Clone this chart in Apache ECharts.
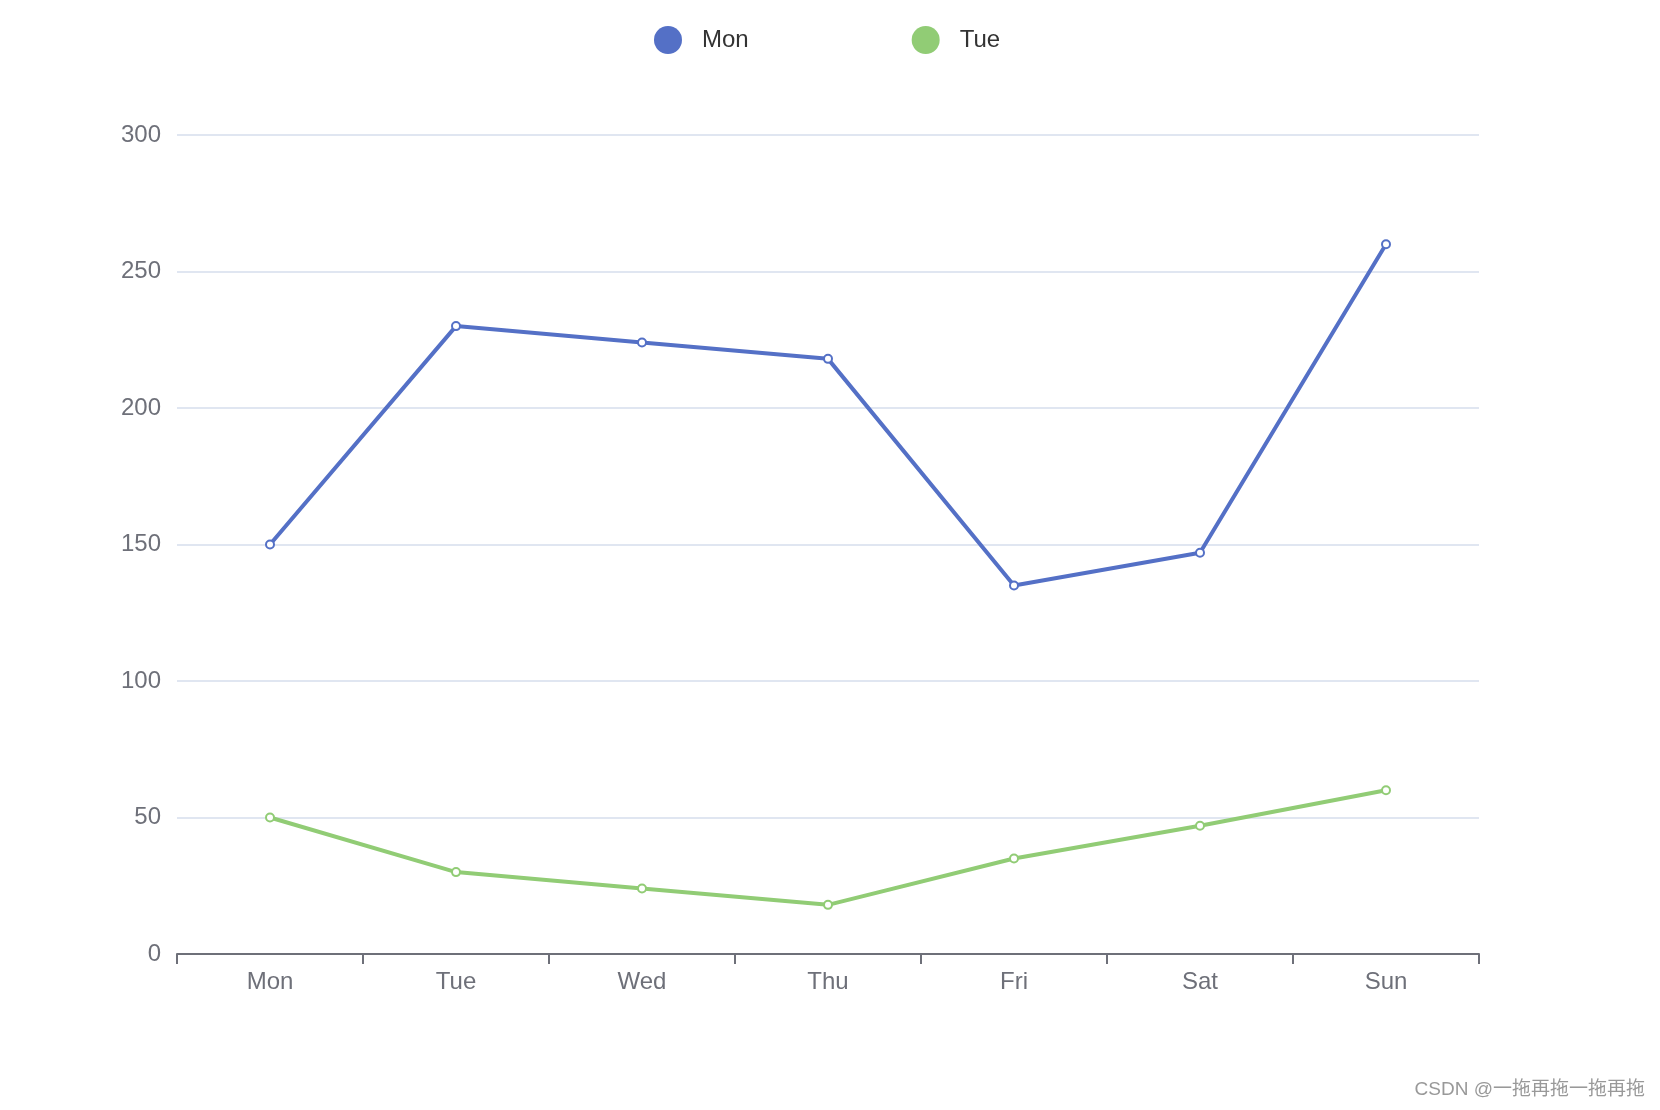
<!DOCTYPE html>
<html>
<head>
<meta charset="utf-8">
<script src="https://cdn.jsdelivr.net/npm/echarts@6/dist/echarts.min.js"></script>
<style>html,body{margin:0;padding:0;background:#fff}#c{width:1660px;height:1110px}</style>
</head>
<body>
<div id="c"></div>
<script>
var categories = ['Mon', 'Tue', 'Wed', 'Thu', 'Fri', 'Sat', 'Sun'];
var seriesNames = ['Mon', 'Tue'];
var monValues = [150, 230, 224, 218, 135, 147, 260];
var tueValues = [50, 30, 24, 18, 35, 47, 60];
var watermarkText = 'CSDN @一拖再拖一拖再拖';

var chart = echarts.init(document.getElementById('c'));
var font = 'Liberation Sans, Helvetica, Arial, sans-serif';
chart.setOption({
  animation: false,
  color: ['#5470c6', '#91cc75'],
  legend: {
    data: seriesNames,
    top: 21,
    left: 649,
    icon: 'circle',
    itemWidth: 58,
    itemHeight: 28,
    itemGap: 163,
    textStyle: { fontSize: 24, color: '#333', fontFamily: font }
  },
  grid: { left: 177, right: 181, top: 135, bottom: 156 },
  xAxis: {
    type: 'category',
    data: categories,
    axisLine: { lineStyle: { color: '#6e7079', width: 2 } },
    axisTick: { show: true, alignWithLabel: false, length: 10, lineStyle: { color: '#6e7079', width: 2 } },
    axisLabel: { fontSize: 24, color: '#6e7079', margin: 16, fontFamily: font }
  },
  yAxis: {
    type: 'value',
    min: 0, max: 300, interval: 50,
    axisLabel: { fontSize: 24, color: '#6e7079', margin: 16, fontFamily: font },
    splitLine: { lineStyle: { color: '#e0e6f1', width: 2 } }
  },
  graphic: [{
    type: 'text',
    right: 15,
    top: 1080,
    style: {
      text: watermarkText,
      fontSize: 19,
      fill: '#999',
      fontFamily: 'Liberation Sans, Noto Sans CJK SC, sans-serif'
    }
  }],
  series: [
    { name: seriesNames[0], type: 'line', data: monValues, symbol: 'emptyCircle', symbolSize: 8,
      lineStyle: { width: 4 }, itemStyle: { borderWidth: 3 } },
    { name: seriesNames[1], type: 'line', data: tueValues, symbol: 'emptyCircle', symbolSize: 8,
      lineStyle: { width: 4 }, itemStyle: { borderWidth: 3 } }
  ]
});
</script>
</body>
</html>
